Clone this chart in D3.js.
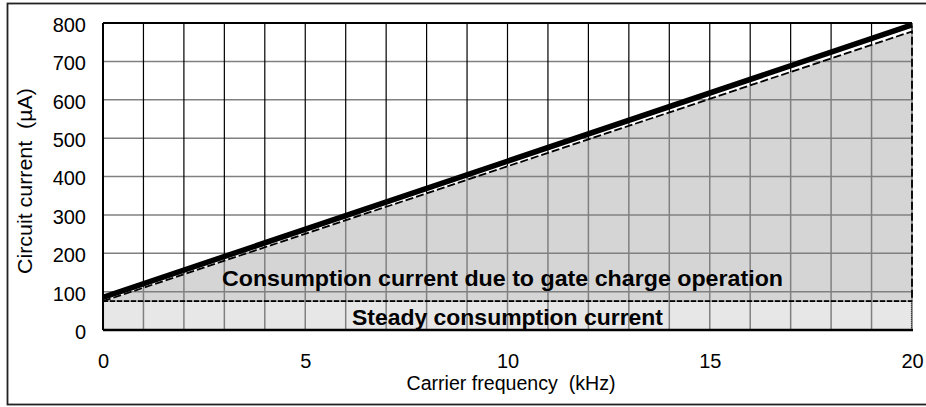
<!DOCTYPE html>
<html>
<head>
<meta charset="utf-8">
<script src="https://cdn.jsdelivr.net/npm/d3@7"></script>
<style>
  html, body { margin: 0; padding: 0; background: #fff; }
  svg { display: block; font-family: Arial, "Liberation Sans", sans-serif; }
  text { white-space: pre; }
</style>
</head>
<body>
<svg id="chart" width="926" height="407"></svg>
<script>
// Circuit current vs carrier frequency
const freqDomain = [0, 20];
const currentDomain = [0, 800];
const xTicks = [0, 5, 10, 15, 20];
const yTicks = [0, 100, 200, 300, 400, 500, 600, 700, 800];
const gridFreq = d3.range(0, 21, 1);
const gridCurrent = d3.range(0, 801, 100);

// operating points (kHz, µA)
const freqPoints = [0, 20];
const totalCurrent = [85, 795];      // total circuit current
const gateTopCurrent = [75, 778];    // steady + gate charge component
const steadyCurrent = 75;            // steady consumption current

const regionLabels = ["Consumption current due to gate charge operation", "Steady consumption current"];
const xTitle = "Carrier frequency  (kHz)";
const yTitle = "Circuit current  (\u00b5A)";

const svg = d3.select("#chart");
const plot = { left: 103, right: 912, top: 23, bottom: 330 };
const FONT = "Arial, 'Liberation Sans', sans-serif";

const x = d3.scaleLinear().domain(freqDomain).range([plot.left, plot.right]);
const y = d3.scaleLinear().domain(currentDomain).range([plot.bottom, plot.top]);

// outer frame
svg.append("rect").attr("x", 7.5).attr("y", 3.5).attr("width", 940).attr("height", 401)
  .attr("fill", "none").attr("stroke", "#222").attr("stroke-width", 1.8);

// gate-charge region (triangle above steady level)
const gateInterp = f => gateTopCurrent[0] + (gateTopCurrent[1] - gateTopCurrent[0]) * (f - freqPoints[0]) / (freqPoints[1] - freqPoints[0]);
svg.append("path")
  .attr("d", d3.line()([
    [x(freqPoints[0]), y(gateTopCurrent[0])],
    [x(freqPoints[1]), y(gateTopCurrent[1])],
    [x(freqPoints[1]), y(steadyCurrent)],
    [x(freqPoints[0]), y(steadyCurrent)]
  ]) + "Z")
  .attr("fill", "#d5d5d5");

// steady region
svg.append("rect")
  .attr("x", x(freqDomain[0])).attr("y", y(steadyCurrent))
  .attr("width", x(freqDomain[1]) - x(freqDomain[0]))
  .attr("height", y(0) - y(steadyCurrent))
  .attr("fill", "#e7e7e7");

// grid: horizontal lines
svg.append("g").selectAll("line").data(gridCurrent).join("line")
  .attr("x1", plot.left).attr("x2", plot.right)
  .attr("y1", d => y(d)).attr("y2", d => y(d))
  .attr("stroke", "#808080").attr("stroke-width", 1.5);

// grid: vertical lines, black above the filled area, grey inside it
const vg = svg.append("g");
vg.selectAll("line.up").data(gridFreq).join("line").attr("class", "up")
  .attr("x1", d => x(d)).attr("x2", d => x(d))
  .attr("y1", plot.top).attr("y2", d => y(gateInterp(d)))
  .attr("stroke", "#000").attr("stroke-width", 1.2);
vg.selectAll("line.dn").data(gridFreq).join("line").attr("class", "dn")
  .attr("x1", d => x(d)).attr("x2", d => x(d))
  .attr("y1", d => y(gateInterp(d))).attr("y2", plot.bottom)
  .attr("stroke", "#808080").attr("stroke-width", 1.5);

// steady region outline (fine dotted) and dashed top
svg.append("rect")
  .attr("x", x(freqDomain[0]) + 0.5).attr("y", y(steadyCurrent))
  .attr("width", x(freqDomain[1]) - x(freqDomain[0]) - 1)
  .attr("height", y(0) - y(steadyCurrent))
  .attr("fill", "none").attr("stroke", "#222").attr("stroke-width", 1.2)
  .attr("stroke-dasharray", "1,1");
svg.append("line")
  .attr("x1", x(freqDomain[0])).attr("x2", x(freqDomain[1]))
  .attr("y1", y(steadyCurrent)).attr("y2", y(steadyCurrent))
  .attr("stroke", "#000").attr("stroke-width", 1.8).attr("stroke-dasharray", "5,2");

// dashed outline of gate-charge region
svg.append("path")
  .attr("d", d3.line()([
    [x(freqPoints[0]), y(gateTopCurrent[0])],
    [x(freqPoints[1]), y(gateTopCurrent[1])],
    [x(freqPoints[1]), y(steadyCurrent)]
  ]))
  .attr("fill", "none").attr("stroke", "#000").attr("stroke-width", 1.8)
  .attr("stroke-dasharray", "8,3");

// plot frame: top, left, bottom
svg.append("line").attr("x1", plot.left).attr("x2", plot.right)
  .attr("y1", plot.top).attr("y2", plot.top).attr("stroke", "#000").attr("stroke-width", 2);
svg.append("line").attr("x1", plot.left).attr("x2", plot.left)
  .attr("y1", plot.top).attr("y2", plot.bottom).attr("stroke", "#000").attr("stroke-width", 2);
svg.append("line").attr("x1", plot.left).attr("x2", plot.right + 1)
  .attr("y1", plot.bottom).attr("y2", plot.bottom).attr("stroke", "#000").attr("stroke-width", 2.5);

// total current line
svg.append("path")
  .attr("d", d3.line().x(d => x(d[0])).y(d => y(d[1]))(freqPoints.map((f, i) => [f, totalCurrent[i]])))
  .attr("fill", "none").attr("stroke", "#000").attr("stroke-width", 5.5);

// region labels
svg.append("text").attr("x", 222).attr("y", 286)
  .attr("textLength", 561).attr("lengthAdjust", "spacingAndGlyphs")
  .style("font-size", "22px").style("font-weight", "bold").text(regionLabels[0]);
svg.append("text").attr("x", 352).attr("y", 325)
  .attr("textLength", 311).attr("lengthAdjust", "spacingAndGlyphs")
  .style("font-size", "22px").style("font-weight", "bold").text(regionLabels[1]);

// tick labels
const yAxis = svg.append("g").attr("transform", `translate(${plot.left - 17},0)`)
  .call(d3.axisLeft(y).tickValues(yTicks).tickSize(0).tickPadding(0));
yAxis.select(".domain").remove();
yAxis.attr("font-size", null).attr("font-family", null);
yAxis.selectAll("text").style("font-size", "20px").style("font-family", FONT).attr("fill", "#000")
  .attr("dy", "0.42em");

const xAxis = svg.append("g").attr("transform", `translate(0,${plot.bottom + 24})`)
  .call(d3.axisBottom(x).tickValues(xTicks).tickSize(0).tickPadding(0));
xAxis.select(".domain").remove();
xAxis.attr("font-size", null).attr("font-family", null);
xAxis.selectAll("text").style("font-size", "20px").style("font-family", FONT).attr("fill", "#000");

// axis titles
svg.append("text").attr("x", 511).attr("y", 390).attr("text-anchor", "middle")
  .attr("textLength", 209).attr("lengthAdjust", "spacingAndGlyphs")
  .style("font-size", "19.5px").text(xTitle);
svg.append("text").attr("transform", "translate(32,181) rotate(-90)").attr("text-anchor", "middle")
  .attr("textLength", 186).attr("lengthAdjust", "spacingAndGlyphs")
  .style("font-size", "19.5px").text(yTitle);
</script>
</body>
</html>
